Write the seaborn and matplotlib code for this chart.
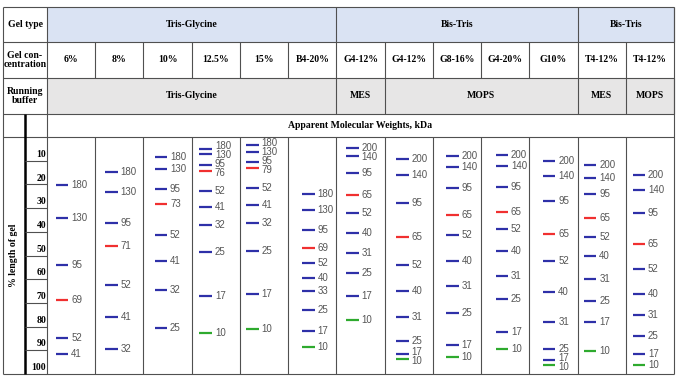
import numpy as np
import pandas as pd
import matplotlib.pyplot as plt
import seaborn as sns
from matplotlib.patches import Rectangle

# --- data ---
gel_conc = ['6%', '8%', '10%', '12.5%', '15%', 'B4-20%', 'G4-12%', 'G4-12%',
            'G8-16%', 'G4-20%', 'G10%', 'T4-12%', 'T4-12%']
gel_type = [('Tris-Glycine', 0, 6), ('Bis-Tris', 6, 11), ('Bis-Tris', 11, 13)]
run_buffer = [('Tris-Glycine', 0, 6), ('MES', 6, 7), ('MOPS', 7, 11),
              ('MES', 11, 12), ('MOPS', 12, 13)]

kda_6 = [180, 130, 95, 69, 52, 41]
kda_8 = [180, 130, 95, 71, 52, 41, 32]
kda_10 = [180, 130, 95, 73, 52, 41, 32, 25]
kda_125 = [180, 130, 95, 76, 52, 41, 32, 25, 17, 10]
kda_15 = [180, 130, 95, 79, 52, 41, 32, 25, 17, 10]
kda_b420 = [180, 130, 95, 69, 52, 40, 33, 25, 17, 10]
kda_bt = [200, 140, 95, 65, 52, 40, 31, 25, 17, 10]

# migration, % length of gel
pct_6 = [20.2, 34.3, 53.8, 68.6, 84.7, 91.5]
pct_8 = [14.8, 23.4, 36.4, 46.1, 62.3, 76.0, 89.3]
pct_10 = [8.3, 13.7, 22.0, 28.4, 41.5, 52.4, 64.4, 80.8]
pct_125 = [5.1, 7.3, 11.7, 14.5, 22.8, 29.7, 37.3, 48.6, 66.9, 82.8]
pct_15 = [3.4, 6.2, 10.7, 13.1, 21.7, 28.5, 36.1, 47.9, 66.1, 81.2]
pct_b420 = [24.2, 30.9, 39.3, 47.0, 53.3, 59.3, 65.1, 72.9, 81.9, 88.4]
pct_g412_mes = [4.8, 8.2, 15.0, 24.3, 32.1, 40.7, 48.9, 57.3, 67.2, 77.3]
pct_g412_mops = [9.3, 16.0, 27.8, 42.2, 54.1, 65.0, 76.1, 86.0, 91.5, 93.8]
pct_g816 = [7.9, 12.6, 21.6, 33.1, 41.4, 52.4, 63.0, 74.3, 87.6, 92.7]
pct_g420 = [7.6, 12.4, 21.3, 31.6, 39.0, 48.3, 58.5, 68.2, 82.2, 89.4]
pct_g10 = [10.3, 16.5, 27.2, 41.1, 52.3, 65.4, 78.1, 89.5, 94.1, 96.2]
pct_t412_mes = [11.9, 17.1, 23.9, 34.2, 42.2, 50.3, 59.9, 69.4, 78.1, 90.1]
pct_t412_mops = [16.1, 22.5, 32.2, 45.0, 55.5, 66.2, 74.9, 83.8, 91.5, 96.3]

red_kda = [69, 71, 73, 76, 79, 69, 65, 65, 65, 65, 65, 65, 65]

lane_kda = [kda_6, kda_8, kda_10, kda_125, kda_15, kda_b420] + [kda_bt] * 7
lane_pct = [pct_6, pct_8, pct_10, pct_125, pct_15, pct_b420, pct_g412_mes,
            pct_g412_mops, pct_g816, pct_g420, pct_g10, pct_t412_mes, pct_t412_mops]

# layout: where the band mark sits inside each lane
mark_off = [0.31, 0.34, 0.36, 0.29, 0.26, 0.42, 0.33, 0.37, 0.41, 0.43, 0.41, 0.26, 0.27]

rows = []
for i, (kd, pc) in enumerate(zip(lane_kda, lane_pct)):
    for k, p in zip(kd, pc):
        kind = 'red' if k == red_kda[i] else ('green' if k == 10 else 'blue')
        rows.append({'lane': i, 'kda': k, 'pct': p, 'kind': kind,
                     'x': i + mark_off[i]})
df = pd.DataFrame(rows)


def spread(vals, gap):
    pos = list(vals)
    for _ in range(300):
        moved = False
        for j in range(len(pos) - 1):
            d = pos[j + 1] - pos[j]
            if d < gap - 1e-6:
                s = (gap - d) / 2
                pos[j] -= s
                pos[j + 1] += s
                moved = True
        if not moved:
            break
    return pos


sns.set_style('white')
plt.rcParams['font.family'] = ['Liberation Sans', 'DejaVu Sans']

W, H = 679, 382
fig = plt.figure(figsize=(W / 100, H / 100), dpi=100)

# background axes in pixel coordinates for the table frame
bg = fig.add_axes([0, 0, 1, 1])
bg.set_xlim(0, W)
bg.set_ylim(H, 0)
bg.axis('off')

x0, x1, xr = 3, 47, 674
edges = np.linspace(x1, xr, len(gel_conc) + 1)
ry = [7, 42, 78, 114, 137, 374]
line_c = '#505050'
lw = 0.8
serif = dict(family='Liberation Serif', weight='bold', fontsize=7, color='black')

for name, a, b in gel_type:
    bg.add_patch(Rectangle((edges[a], ry[0]), edges[b] - edges[a], ry[1] - ry[0],
                           facecolor='#dae3f3', edgecolor='none'))
    bg.text((edges[a] + edges[b]) / 2, (ry[0] + ry[1]) / 2, name, ha='center', va='center', **serif)
    bg.vlines(edges[b], ry[0], ry[1], color=line_c, lw=lw)
for name, a, b in run_buffer:
    bg.add_patch(Rectangle((edges[a], ry[2]), edges[b] - edges[a], ry[3] - ry[2],
                           facecolor='#e7e6e6', edgecolor='none'))
    bg.text((edges[a] + edges[b]) / 2, (ry[2] + ry[3]) / 2, name, ha='center', va='center', **serif)
    bg.vlines(edges[b], ry[2], ry[3], color=line_c, lw=lw)
for i, name in enumerate(gel_conc):
    bg.text((edges[i] + edges[i + 1]) / 2, (ry[1] + ry[2]) / 2, name, ha='center', va='center', **serif)

bg.vlines(edges[1:-1], ry[1], ry[2], color=line_c, lw=lw)
bg.vlines(edges[1:-1], ry[4], ry[5], color=line_c, lw=lw)
bg.vlines([x0, x1, xr], ry[0], ry[5], color=line_c, lw=lw)
bg.hlines(ry, x0, xr, color=line_c, lw=lw)
bg.vlines(25, ry[3], ry[5], color='black', lw=1.8)

bg.text((x0 + x1) / 2, (ry[0] + ry[1]) / 2, 'Gel type', ha='center', va='center', **serif)
bg.text((x0 + x1) / 2, (ry[1] + ry[2]) / 2, 'Gel con-\ncentration', ha='center', va='center',
        linespacing=1.1, **serif)
bg.text((x0 + x1) / 2, (ry[2] + ry[3]) / 2, 'Running\nbuffer', ha='center', va='center',
        linespacing=1.1, **serif)
bg.text((x1 + xr) / 2, (ry[3] + ry[4]) / 2, 'Apparent Molecular Weights, kDa',
        ha='center', va='center', **serif)
bg.text(14, (ry[4] + ry[5]) / 2, '% length of gel', rotation=90, ha='center', va='center', **serif)

# ruler
ruler = fig.add_axes([25 / W, 1 - ry[5] / H, (x1 - 25) / W, (ry[5] - ry[4]) / H])
ruler.set_xlim(0, 1)
ruler.set_ylim(100, 0)
ruler.axis('off')
ruler.hlines(range(10, 100, 10), 0, 1, color=line_c, lw=lw)
for v in range(10, 101, 10):
    ruler.text(0.97, v - 0.8, str(v), ha='right', va='bottom', **serif)

# lanes
ax = fig.add_axes([x1 / W, 1 - ry[5] / H, (xr - x1) / W, (ry[5] - ry[4]) / H])
sns.scatterplot(data=df, x='x', y='pct', hue='kind',
                palette={'blue': '#2e30a8', 'red': '#f03030', 'green': '#2eaa2e'},
                marker='_', s=80, linewidth=1.6, legend=False, ax=ax)
for i in range(len(gel_conc)):
    sub = df[df['lane'] == i]
    ys = spread(sub['pct'].tolist(), 3.8)
    for k, y in zip(sub['kda'], ys):
        ax.text(i + mark_off[i] + 0.19, y, str(k), ha='left', va='center',
                fontsize=7, color='#555555')
ax.set_xlim(0, len(gel_conc))
ax.set_ylim(100, 0)
ax.axis('off')

fig.savefig('out.png', dpi=100)
